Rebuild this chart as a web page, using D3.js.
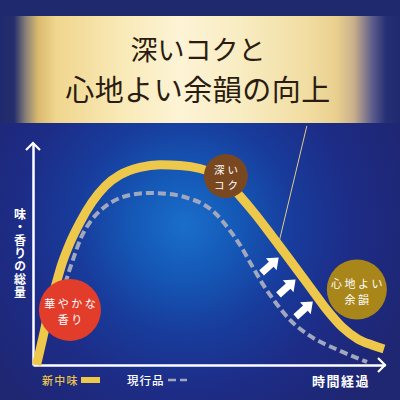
<!DOCTYPE html>
<html><head><meta charset="utf-8">
<script src="https://cdn.jsdelivr.net/npm/d3@7/dist/d3.min.js"></script>
<style>html,body{margin:0;padding:0;background:#1f2a6e;}svg{display:block;}</style>
</head><body>
<svg id="c" width="400" height="400"></svg>
<script>
// ---- data (time %, total amount %) ----
const titleLines = ["深いコクと", "心地よい余韻の向上"];
const yLabel = "味・香りの総量";
const xLabel = "時間経過";
const legendLabels = ["新中味", "現行品"];

const newTime  = [1, 2, 3.1, 4.5, 6.3, 8.2, 10.5, 13.4, 16.8, 20.5, 24.7, 30.4, 36.1, 41.8, 47.4, 51.7, 55.4, 58.8, 63.1, 67.9, 73.0, 78.7, 83.5, 87.8, 92.3, 96.3, 99.7];
const newValue = [0, 6.8, 14.4, 24.8, 35.1, 45.5, 55.0, 64.4, 73.4, 80.6, 85.6, 89.0, 90.2, 89.9, 88.5, 86.0, 82.0, 76.1, 68.0, 58.1, 47.3, 35.1, 24.8, 17.1, 11.7, 9.0, 7.2];

const curTime  = [8.2, 9.9, 11.6, 13.6, 16.2, 19.0, 22.4, 27.6, 33.2, 38.9, 44.0, 48.3, 51.7, 55.4, 58.8, 61.6, 65.1, 68.8, 73.0, 78.7, 86.6, 94.9];
const curValue = [31.5, 40.5, 48.6, 57.2, 64.4, 69.4, 73.4, 76.6, 77.5, 77.0, 75.2, 72.5, 68.5, 61.7, 54.1, 46.4, 36.9, 28.4, 20.3, 13.1, 6.8, 1.4];

const noteLabels = [["華やかな", "香り"], ["深い", "コク"], ["心地よい", "余韻"]];
const noteTime   = [10.5, 54.8, 92.0];
const noteValue  = [24.8, 85.1, 34.0];
const noteColors = ["#e23c2b", "#7a4820", "#a8861a"];

const arrowTime  = [69.8, 74.6, 79.5];
const arrowValue = [48.4, 38.5, 28.6];

const pointerFrom = [77.8, 107.7];
const pointerTo   = [69.9, 55.4];

// ---- drawing ----
const svg = d3.select("#c");
const W = 400, H = 400;
const x = d3.scaleLinear().domain([0, 100]).range([33, 385]);
const y = d3.scaleLinear().domain([0, 100]).range([365, 143]);

const defs = svg.append("defs");
const rg = defs.append("radialGradient").attr("id", "bg")
  .attr("gradientUnits", "userSpaceOnUse").attr("cx", 185).attr("cy", 225).attr("r", 240);
[[0, "#1a6ecb"], [0.22, "#1558b6"], [0.45, "#183c9c"], [0.7, "#1d2c86"], [1, "#1f2672"]]
  .forEach(s => rg.append("stop").attr("offset", s[0]).attr("stop-color", s[1]));

const bg = defs.append("linearGradient").attr("id", "banner").attr("x1", 0).attr("x2", 1).attr("y1", 0).attr("y2", 0);
[[0, "#1f2a6e"], [0.035, "#252e6c"], [0.065, "#8a8176"], [0.095, "#d9b96e"], [0.14, "#f0d68e"],
 [0.3, "#f9e9b6"], [0.45, "#fdf4d6"], [0.6, "#f8ecc2"], [0.76, "#f2dea4"], [0.84, "#ead090"],
 [0.885, "#c9b08a"], [0.93, "#5e5e8c"], [0.965, "#262f74"], [1, "#1f2a6e"]]
  .forEach(s => bg.append("stop").attr("offset", s[0]).attr("stop-color", s[1]));

svg.append("rect").attr("width", W).attr("height", H).attr("fill", "#1f2a6e");
svg.append("rect").attr("y", 123).attr("width", W).attr("height", H - 123).attr("fill", "url(#bg)");
svg.append("rect").attr("y", 16).attr("width", W).attr("height", 107).attr("fill", "url(#banner)");

const fontCJK = "'Noto Sans CJK JP','Noto Sans CJK SC',sans-serif";

svg.append("text").attr("x", 198).attr("y", 60).attr("text-anchor", "middle")
  .attr("font-family", fontCJK).attr("font-size", 27).attr("fill", "#2a1c10").attr("letter-spacing", 0)
  .text(titleLines[0]);
svg.append("text").attr("x", 198).attr("y", 101).attr("text-anchor", "middle")
  .attr("font-family", fontCJK).attr("font-size", 29).attr("fill", "#2a1c10").attr("letter-spacing", 0.5)
  .text(titleLines[1]);

// pointer line from banner to curve
svg.append("line")
  .attr("x1", x(pointerFrom[0])).attr("y1", y(pointerFrom[1]))
  .attr("x2", x(pointerTo[0])).attr("y2", y(pointerTo[1]))
  .attr("stroke", "#e2c985").attr("stroke-width", 1);

// axes
const gx = svg.append("g").attr("transform", `translate(0,${y(0)})`)
  .call(d3.axisBottom(x).tickValues([]).tickSizeOuter(0));
const gy = svg.append("g").attr("transform", `translate(${x(0)},0)`)
  .call(d3.axisLeft(y).tickValues([]).tickSizeOuter(0));
[gx, gy].forEach(g => g.select(".domain").attr("stroke", "#ffffff").attr("stroke-width", 2.5));
svg.append("path")
  .attr("d", `M${x(100) - 7},${y(0) - 7}L${x(100)},${y(0)}L${x(100) - 7},${y(0) + 7}`)
  .attr("fill", "none").attr("stroke", "#fff").attr("stroke-width", 2.2);
svg.append("path")
  .attr("d", `M${x(0) - 7},${y(100) + 7}L${x(0)},${y(100)}L${x(0) + 7},${y(100) + 7}`)
  .attr("fill", "none").attr("stroke", "#fff").attr("stroke-width", 2.2);

const line = d3.line().x(d => x(d[0])).y(d => y(d[1])).curve(d3.curveMonotoneX);
const curData = curTime.map((t, i) => [t, curValue[i]]);
const newData = newTime.map((t, i) => [t, newValue[i]]);

svg.append("path").attr("d", line(curData)).attr("fill", "none")
  .attr("stroke", "#a0a7be").attr("stroke-width", 4).attr("stroke-dasharray", "8,4");
svg.append("path").attr("d", line(newData)).attr("fill", "none")
  .attr("stroke", "#eec84a").attr("stroke-width", 9);

// arrows
const arrowShape = "M0,0L-10,-8L-10,-3.5L-23,-3.5L-23,3.5L-10,3.5L-10,8Z";
arrowTime.forEach((t, i) => {
  svg.append("path").attr("d", arrowShape).attr("fill", "#ffffff")
    .attr("transform", `translate(${x(t)},${y(arrowValue[i])}) rotate(-42)`);
});

// note circles
const radii = [31, 22, 30];
noteLabels.forEach((lab, i) => {
  const cx = x(noteTime[i]), cy = y(noteValue[i]);
  svg.append("circle").attr("cx", cx).attr("cy", cy).attr("r", radii[i]).attr("fill", noteColors[i]);
  const fs = i === 1 ? 10.5 : 11;
  const ls = i === 1 ? 3 : 2.5;
  const gap = i === 1 ? 15.5 : 16;
  lab.forEach((s, j) => {
    svg.append("text").attr("x", cx + ls / 2).attr("y", cy - gap / 2 + 1 + j * gap)
      .attr("text-anchor", "middle").attr("dominant-baseline", "central")
      .attr("font-family", fontCJK).attr("font-size", fs).attr("fill", "#fff")
      .attr("letter-spacing", ls).text(s);
  });
});

// axis labels
svg.append("text").attr("x", 20).attr("y", 208)
  .style("writing-mode", "vertical-rl")
  .attr("font-family", fontCJK).attr("font-size", 12).attr("font-weight", 700)
  .attr("fill", "#fff").attr("letter-spacing", 1).text(yLabel);
svg.append("text").attr("x", 370).attr("y", 380).attr("text-anchor", "end")
  .attr("dominant-baseline", "central")
  .attr("font-family", fontCJK).attr("font-size", 13).attr("font-weight", 700)
  .attr("fill", "#fff").attr("letter-spacing", 1.5).text(xLabel);

// legend
svg.append("text").attr("x", 42).attr("y", 380).attr("dominant-baseline", "central")
  .attr("font-family", fontCJK).attr("font-size", 11).attr("font-weight", 500)
  .attr("fill", "#e8c44c").attr("letter-spacing", 1.2).text(legendLabels[0]);
svg.append("rect").attr("x", 81).attr("y", 377).attr("width", 19).attr("height", 6).attr("fill", "#eec84a");
svg.append("text").attr("x", 127).attr("y", 380).attr("dominant-baseline", "central")
  .attr("font-family", fontCJK).attr("font-size", 11.5).attr("font-weight", 500)
  .attr("fill", "#fff").attr("letter-spacing", 1).text(legendLabels[1]);
svg.append("line").attr("x1", 168).attr("x2", 187).attr("y1", 380).attr("y2", 380)
  .attr("stroke", "#a0a7be").attr("stroke-width", 2.5).attr("stroke-dasharray", "8,4");
</script>
</body></html>
